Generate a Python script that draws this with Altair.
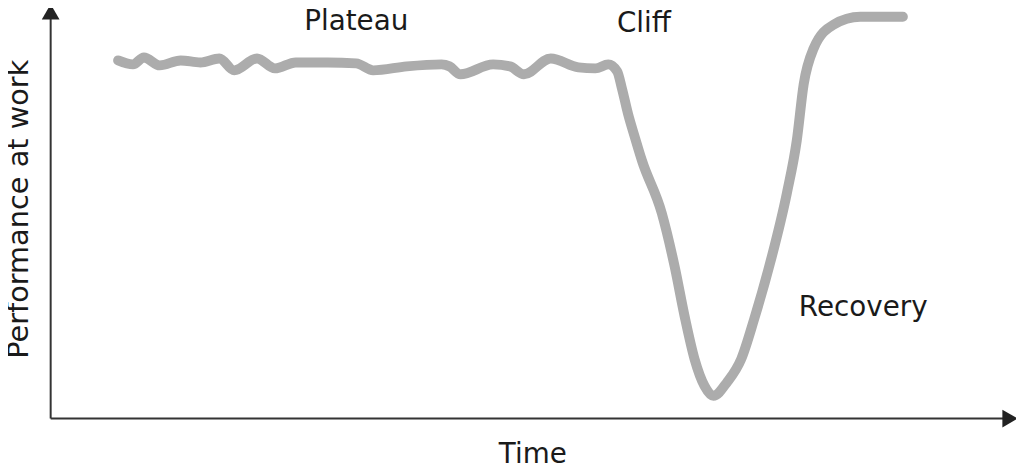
import altair as alt
import pandas as pd

# Performance curve (time, performance) in arbitrary units
time = [68, 83, 94, 110, 131, 151, 170, 185, 208, 226, 247, 279, 308, 325, 359, 394,
        402, 413, 446, 463, 477, 504, 532, 549, 562, 571, 576, 582, 589, 596, 616, 629,
        639, 649, 659, 668, 682, 696, 709, 726, 742, 752, 759, 769, 789, 816, 859]
perf = [361, 357, 364, 356, 361, 359, 363, 351, 363, 353, 359, 359, 358, 351, 355, 357,
        355, 347, 357, 355, 347, 363, 354, 353, 357, 350, 332, 307, 283, 260, 207, 153,
        103, 60, 33, 23, 37, 60, 100, 160, 227, 280, 337, 373, 397, 405, 405]

label_text = ["Plateau", "Cliff", "Recovery"]
label_time = [308, 598, 819]
label_perf = [392, 390, 103]

x_title = "Time"
y_title = "Performance at work"

X_DOMAIN = [-43, 973]
Y_DOMAIN = [-54, 412]

FONT = "DejaVu Sans"

xs = alt.Scale(domain=X_DOMAIN, nice=False, zero=False)
ys = alt.Scale(domain=Y_DOMAIN, nice=False, zero=False)

curve_df = pd.DataFrame({"t": time, "p": perf})
labels_df = pd.DataFrame({"t": label_time, "p": label_perf, "label": label_text})

curve = alt.Chart(curve_df).mark_line(
    color="#acacac", strokeWidth=10, strokeCap="round", strokeJoin="round",
    interpolate="monotone"
).encode(
    x=alt.X("t:Q", scale=xs, axis=None),
    y=alt.Y("p:Q", scale=ys, axis=None),
)

axes_df = pd.DataFrame({"t": [0, 0], "p": [0, 0], "t2": [0, 960], "p2": [407, 0]})
axes = alt.Chart(axes_df).mark_rule(color="#333333", strokeWidth=2).encode(
    x=alt.X("t:Q", scale=xs, axis=None),
    y=alt.Y("p:Q", scale=ys, axis=None),
    x2="t2:Q",
    y2="p2:Q",
)

arrows_df = pd.DataFrame({"t": [0, 967], "p": [410, 0], "shape": ["triangle-up", "triangle-right"]})
arrows = alt.Chart(arrows_df).mark_point(
    filled=True, color="#222222", size=320, opacity=1
).encode(
    x=alt.X("t:Q", scale=xs, axis=None),
    y=alt.Y("p:Q", scale=ys, axis=None),
    shape=alt.Shape("shape:N", scale=None, legend=None),
)

labels = alt.Chart(labels_df).mark_text(
    font=FONT, fontSize=28, color="#1a1a1a", align="center", baseline="alphabetic"
).encode(
    x=alt.X("t:Q", scale=xs, axis=None),
    y=alt.Y("p:Q", scale=ys, axis=None),
    text="label:N",
)

xt_df = pd.DataFrame({"t": [486], "p": [-45], "label": [x_title]})
xt = alt.Chart(xt_df).mark_text(
    font=FONT, fontSize=28, color="#1a1a1a", align="center", baseline="alphabetic"
).encode(
    x=alt.X("t:Q", scale=xs, axis=None),
    y=alt.Y("p:Q", scale=ys, axis=None),
    text="label:N",
)

yt_df = pd.DataFrame({"t": [-23], "p": [211], "label": [y_title]})
yt = alt.Chart(yt_df).mark_text(
    font=FONT, fontSize=29, color="#1a1a1a", align="center", baseline="alphabetic",
    angle=270
).encode(
    x=alt.X("t:Q", scale=xs, axis=None),
    y=alt.Y("p:Q", scale=ys, axis=None),
    text="label:N",
)

chart = alt.layer(axes, curve, arrows, labels, xt, yt).properties(
    width=1016, height=466,
    autosize=alt.AutoSizeParams(type="none"),
    padding=0,
).configure_view(stroke=None)

chart.save("out.html", embed_options={"renderer": "svg", "actions": False})
